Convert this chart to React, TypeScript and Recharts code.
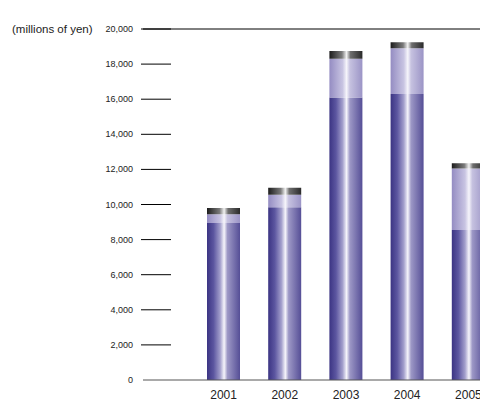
import React from 'react';
import { BarChart, Bar, XAxis, YAxis, ReferenceLine } from 'recharts';

const years = ['2001', '2002', '2003', '2004', '2005'];
const baseValues = [8950, 9850, 16100, 16300, 8550];
const midValues = [500, 700, 2200, 2600, 3500];
const capValues = [350, 400, 450, 350, 300];
const yTicks = [0, 2000, 4000, 6000, 8000, 10000, 12000, 14000, 16000, 18000, 20000];

const data = years.map((year, i) => ({
    year,
    base: baseValues[i],
    mid: midValues[i],
    cap: capValues[i],
}));

const FONT = '"Liberation Sans", Arial, Helvetica, sans-serif';

const YTick = (props: any) => {
    const { y, payload } = props;
    const v = payload.value as number;
    return (
        <g>
            {v === 20000 && (
                <text x={12} y={y} dy={4} fontSize={11.5} fill="#222" fontFamily={FONT}>
                    (millions of yen)
                </text>
            )}
            <text x={133} y={y} dy={3} textAnchor="end" fontSize={9} fill="#222" fontFamily={FONT}>
                {v.toLocaleString('en-US')}
            </text>
            {v !== 0 && <line x1={141} x2={171} y1={y} y2={y} stroke="#000" strokeWidth={1} />}
        </g>
    );
};

const App: React.FC = () => {
    return (
        <div style={{ position: 'absolute', left: 0, top: 0, width: 480, height: 403, overflow: 'hidden', background: '#fff' }}>
            <BarChart
                width={500}
                height={403}
                data={data}
                margin={{ top: 29, right: 1, left: 0, bottom: 0 }}
            >
                <defs>
                    <linearGradient id="gBase" x1="0" y1="0" x2="1" y2="0">
                        <stop offset="0%" stopColor="#3b3483" />
                        <stop offset="20%" stopColor="#5c56a0" />
                        <stop offset="40%" stopColor="#a39fcc" />
                        <stop offset="52%" stopColor="#f6f5fb" />
                        <stop offset="62%" stopColor="#9d98c6" />
                        <stop offset="100%" stopColor="#554e96" />
                    </linearGradient>
                    <linearGradient id="gMid" x1="0" y1="0" x2="1" y2="0">
                        <stop offset="0%" stopColor="#948cc2" />
                        <stop offset="40%" stopColor="#c8c4e2" />
                        <stop offset="52%" stopColor="#f6f5fb" />
                        <stop offset="62%" stopColor="#c6c2e0" />
                        <stop offset="100%" stopColor="#9b94c6" />
                    </linearGradient>
                    <linearGradient id="gCap" x1="0" y1="0" x2="1" y2="0">
                        <stop offset="0%" stopColor="#1c1c1c" />
                        <stop offset="38%" stopColor="#7a7a7a" />
                        <stop offset="52%" stopColor="#f2f2f2" />
                        <stop offset="64%" stopColor="#6e6e6e" />
                        <stop offset="100%" stopColor="#2a2a2a" />
                    </linearGradient>
                </defs>
                <XAxis
                    dataKey="year"
                    height={23}
                    padding={{ left: 50, right: 0 }}
                    axisLine={{ stroke: '#555', strokeWidth: 1 }}
                    tickLine={false}
                    tickMargin={4}
                    tick={{ fontSize: 12, fill: '#222', fontFamily: FONT }}
                />
                <YAxis
                    width={143}
                    domain={[0, 20000]}
                    ticks={yTicks}
                    axisLine={false}
                    tickLine={false}
                    tick={<YTick />}
                    interval={0}
                />
                <ReferenceLine y={20000} stroke="#000" strokeWidth={1} />
                <Bar dataKey="base" stackId="a" fill="url(#gBase)" barSize={33} isAnimationActive={false} />
                <Bar dataKey="mid" stackId="a" fill="url(#gMid)" barSize={33} isAnimationActive={false} />
                <Bar dataKey="cap" stackId="a" fill="url(#gCap)" barSize={33} isAnimationActive={false} />
            </BarChart>
        </div>
    );
};

export default App;
